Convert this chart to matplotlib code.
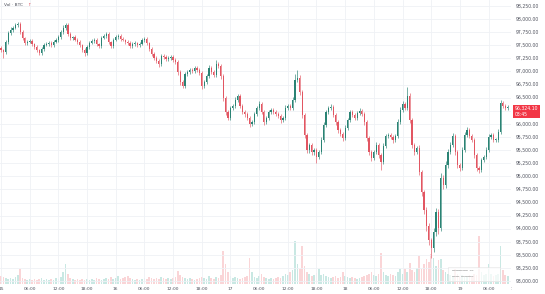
import matplotlib
matplotlib.use("Agg")
import matplotlib.pyplot as plt
from matplotlib.patches import Rectangle
import numpy as np

# 30-minute BTC closes (15th 00:00 -> 19th ~10:30)
closes = [
    97410, 97372, 97563, 97735, 97792, 97830, 97887, 97907, 97754, 97639,
    97544, 97563, 97582, 97525, 97468, 97410, 97353, 97430, 97506, 97525,
    97544, 97506, 97563, 97601, 97659, 97754, 97830, 97887, 97716, 97639,
    97659, 97601, 97563, 97506, 97410, 97353, 97468, 97544, 97582, 97601,
    97525, 97487, 97639, 97678, 97716, 97563, 97487, 97601, 97659, 97678,
    97620, 97601, 97563, 97544, 97487, 97525, 97544, 97506, 97525, 97601,
    97620, 97544, 97430, 97334, 97258, 97201, 97143, 97296, 97277, 97239,
    97258, 97277, 97220, 97182, 96991, 96800, 96724, 96953, 96991, 97029,
    97010, 97067, 97029, 96972, 96724, 96800, 96914, 97067, 96991, 96933,
    97143, 97105, 96914, 96495, 96228, 96113, 96304, 96342, 96456, 96533,
    96342, 96228, 96189, 96113, 95999, 96037, 96189, 96304, 96380, 96228,
    96037, 96113, 96228, 96266, 96228, 96189, 96151, 96075, 96113, 96304,
    96342, 96304, 96456, 96838, 96876, 96609, 96170, 95789, 95502, 95598,
    95464, 95502, 95369, 95464, 95693, 95979, 96228, 96304, 96323, 96170,
    96037, 95884, 95808, 95731, 95922, 96075, 96228, 96170, 96113, 96208,
    96247, 96189, 96037, 95731, 95464, 95350, 95464, 95598, 95407, 95274,
    95579, 95770, 95789, 95750, 95693, 95770, 96037, 96266, 96380, 96304,
    96533, 96075, 95598, 95464, 95541, 95083, 94701, 94357, 94052, 93785,
    93632, 93938, 94319, 94014, 94968, 94835, 95216, 95464, 95598, 95770,
    95464, 95216, 95159, 95502, 95789, 95884, 95770, 95693, 95407, 95159,
    95121, 95312, 95369, 95502, 95750, 95789, 95693, 95693, 95846, 96399,
    96342, 96304, 96324,
]
first_open = 97450

# wick extensions beyond the candle body ($)
wick_up = [
    30, 20, 40, 30, 50, 30, 40, 45, 30, 40, 25, 35, 40, 30, 20, 30, 25, 40, 30, 35,
    40, 30, 35, 40, 30, 45, 50, 45, 30, 40, 25, 35, 30, 40, 25, 30, 45, 30, 40, 35,
    30, 25, 40, 35, 45, 30, 25, 40, 30, 35, 30, 40, 25, 30, 35, 30, 40, 25, 30, 40,
    35, 30, 25, 30, 35, 30, 40, 45, 30, 35, 30, 40, 30, 35, 40, 30, 35, 45, 30, 40,
    35, 30, 40, 30, 40, 35, 45, 50, 30, 35, 80, 40, 35, 30, 40, 30, 45, 40, 50, 45,
    30, 40, 35, 30, 40, 35, 45, 40, 50, 35, 30, 40, 35, 45, 30, 35, 30, 40, 35, 50,
    45, 40, 60, 120, 150, 60, 40, 35, 30, 45, 40, 35, 30, 40, 50, 60, 45, 40, 55, 35,
    30, 40, 35, 30, 50, 45, 40, 35, 40, 45, 50, 35, 30, 40, 35, 30, 45, 50, 35, 30,
    60, 45, 40, 35, 30, 45, 60, 50, 55, 45, 170, 60, 40, 35, 40, 50, 45, 40, 60, 50,
    45, 70, 80, 60, 90, 60, 70, 50, 60, 55, 40, 45, 35, 60, 55, 50, 40, 45, 35, 30,
    40, 45, 35, 50, 60, 45, 40, 35, 50, 60, 45, 40, 35,
]
wick_dn = [
    40, 115, 30, 35, 30, 40, 25, 30, 40, 35, 45, 30, 25, 35, 40, 30, 45, 30, 35, 25,
    30, 40, 30, 25, 35, 30, 40, 30, 45, 35, 30, 25, 40, 35, 40, 50, 30, 35, 25, 30,
    40, 45, 30, 25, 30, 40, 45, 30, 25, 35, 30, 25, 40, 30, 45, 30, 35, 40, 30, 25,
    30, 40, 35, 45, 40, 35, 60, 30, 35, 40, 30, 35, 40, 45, 50, 60, 40, 35, 30, 40,
    35, 30, 40, 45, 60, 40, 35, 30, 40, 35, 30, 40, 50, 60, 55, 40, 35, 30, 40, 35,
    45, 40, 50, 45, 60, 40, 35, 30, 40, 45, 60, 40, 35, 30, 40, 35, 45, 50, 35, 30,
    40, 35, 30, 40, 35, 50, 60, 55, 60, 50, 55, 50, 115, 45, 40, 35, 30, 40, 35, 45,
    50, 55, 45, 60, 40, 35, 30, 40, 45, 35, 30, 40, 50, 60, 55, 60, 45, 40, 55, 150,
    45, 40, 35, 45, 50, 40, 35, 30, 40, 35, 45, 60, 55, 50, 45, 60, 70, 80, 90, 100,
    190, 80, 70, 110, 60, 70, 55, 50, 45, 40, 50, 60, 55, 45, 40, 35, 40, 45, 50, 60,
    55, 45, 40, 35, 40, 35, 45, 40, 35, 40, 45, 35, 40,
]

# volume per candle (BTC, scaled)
volume = [
    8, 7, 6, 5, 6, 5, 7, 9, 15, 6, 5, 4, 5, 4, 5, 4, 5, 6, 4, 5,
    4, 5, 4, 6, 5, 7, 12, 20, 10, 6, 5, 4, 5, 4, 5, 4, 5, 4, 5, 4,
    6, 5, 4, 5, 6, 5, 7, 5, 6, 8, 5, 6, 7, 8, 6, 5, 4, 5, 4, 5,
    6, 5, 7, 6, 5, 6, 5, 7, 6, 5, 6, 5, 6, 7, 13, 9, 7, 6, 5, 6,
    5, 4, 5, 6, 7, 6, 5, 8, 6, 5, 7, 6, 9, 33, 20, 12, 8, 6, 7, 6,
    5, 6, 7, 8, 26, 12, 7, 6, 8, 10, 7, 6, 5, 6, 5, 6, 7, 6, 8, 10,
    9, 12, 14, 43, 20, 15, 38, 18, 12, 10, 8, 9, 11, 15, 9, 10, 8, 7, 6, 7,
    8, 6, 7, 12, 8, 7, 6, 7, 6, 5, 6, 7, 8, 9, 10, 12, 9, 8, 10, 31,
    12, 9, 8, 10, 9, 8, 12, 15, 10, 15, 12, 21, 14, 12, 16, 28, 15, 20, 25, 22,
    30, 26, 18, 24, 25, 14, 12, 10, 9, 8, 15, 10, 8, 9, 8, 7, 9, 8, 10, 9,
    48, 12, 9, 10, 20, 10, 8, 9, 10, 38, 14, 9, 8,
]

price_ticks = [93000, 93250, 93500, 93750, 94000, 94250, 94500, 94750, 95000, 95250,
               95500, 95750, 96000, 96250, 96500, 96750, 97000, 97250, 97500, 97750,
               98000, 98250]
hidden_tick = 96250  # sits behind the last-price tag
time_labels = ["15", "06:00", "12:00", "18:00", "16", "06:00", "12:00", "18:00",
               "17", "06:00", "12:00", "18:00", "18", "06:00", "12:00", "18:00",
               "19", "06:00", "12:00"]
last_price = "96,324.10"
countdown = "03:45"

UP = "#2a8374"
DOWN = "#e25662"
GRID = "#eff1f5"
TXT = "#50535e"

W, H = 545, 294
fig = plt.figure(figsize=(W / 100, H / 100), dpi=100)
fig.patch.set_facecolor("white")
ax = fig.add_axes([0, 10 / H, 511 / W, 284 / H])
ax.set_facecolor("white")
for s in ax.spines.values():
    s.set_visible(False)
ax.set_xticks([])
ax.set_yticks([])

n = len(closes)
idx = np.arange(n)
closes_a = np.array(closes, dtype=float)
opens_a = np.concatenate([[first_open], closes_a[:-1]])
hi = np.maximum(opens_a, closes_a) + np.array(wick_up)
lo = np.minimum(opens_a, closes_a) - np.array(wick_dn)
up = closes_a >= opens_a
cols = np.where(up, UP, DOWN)

# x: 1 candle = 2.39 px, first candle at px 1
ax.set_xlim(-1 / 2.39, 510 / 2.39)
ax.set_ylim(92946, 98364)

for k in range(len(time_labels)):
    ax.axvline(k * 12, color=GRID, lw=0.6, zorder=0)
for p in price_ticks:
    ax.axhline(p, color=GRID, lw=0.6, zorder=0)

# volume pane on the same area
vax = ax.twinx()
vax.set_ylim(0, 284)
vax.set_xlim(ax.get_xlim())
vax.axis("off")
vol_cols = np.where(up, "#9ed6cc", "#f6b3b7")
vax.bar(idx, volume, width=0.7, color=vol_cols, alpha=0.55, linewidth=0, zorder=1)

ax.set_zorder(vax.get_zorder() + 1)
ax.patch.set_visible(False)

ax.vlines(idx, lo, hi, colors=cols, linewidth=0.45, zorder=3)
body_h = np.maximum(np.abs(closes_a - opens_a), 10)
ax.bar(idx, body_h, bottom=np.minimum(opens_a, closes_a), width=0.5,
       color=cols, linewidth=0, zorder=4)

# time axis labels
xt = ax.get_xaxis_transform()
for k, lab in enumerate(time_labels):
    ax.text(k * 12, -0.0176, lab, transform=xt, ha="center", va="center",
            fontsize=3.2, color=TXT, clip_on=False)

# right price scale (white panel hides the end of the time axis)
fig.patches.append(Rectangle((512 / W, 0), 33 / W, 1, transform=fig.transFigure,
                             facecolor="white", edgecolor="none", zorder=5))
y0, y1 = ax.get_ylim()
for p in price_ticks:
    if p == hidden_tick:
        continue
    fy = 10 / H + (p - y0) / (y1 - y0) * 284 / H
    fig.text(516 / W, fy, f"{p:,.2f}", ha="left", va="center",
             fontsize=3.3, color=TXT, zorder=6)

# last price tag
fig.patches.append(Rectangle((513 / W, 1 - 118 / H), 27 / W, 13 / H,
                             transform=fig.transFigure, facecolor="#f23645",
                             edgecolor="none", zorder=7))
fig.text(515 / W, 1 - 108.5 / H, last_price, ha="left", va="center",
         fontsize=3.3, color="white", zorder=8)
fig.text(515 / W, 1 - 115 / H, countdown, ha="left", va="center",
         fontsize=3.3, color="white", zorder=8)

# legend / watermark
fig.text(4 / W, 1 - 5 / H, "Vol · BTC", ha="left", va="center", fontsize=3.2, color=TXT)
fig.text(27 / W, 1 - 5 / H, "↑", ha="left", va="center", fontsize=3.2, color=DOWN)
fig.patches.append(Rectangle((448 / W, 1 - 281 / H), 52 / W, 14 / H,
                             transform=fig.transFigure, facecolor="white", alpha=0.75,
                             edgecolor="#d9d9d9", linewidth=0.4, zorder=6))
fig.text(452 / W, 1 - 271 / H, "━━━━━━━━━  ━━", ha="left", va="center",
         fontsize=2.2, color="#b0b0b0", zorder=7)
fig.text(452 / W, 1 - 277 / H, "━━━━  ━━━━━━━", ha="left", va="center",
         fontsize=2.2, color="#b0b0b0", zorder=7)

fig.savefig("out.png", dpi=100)
